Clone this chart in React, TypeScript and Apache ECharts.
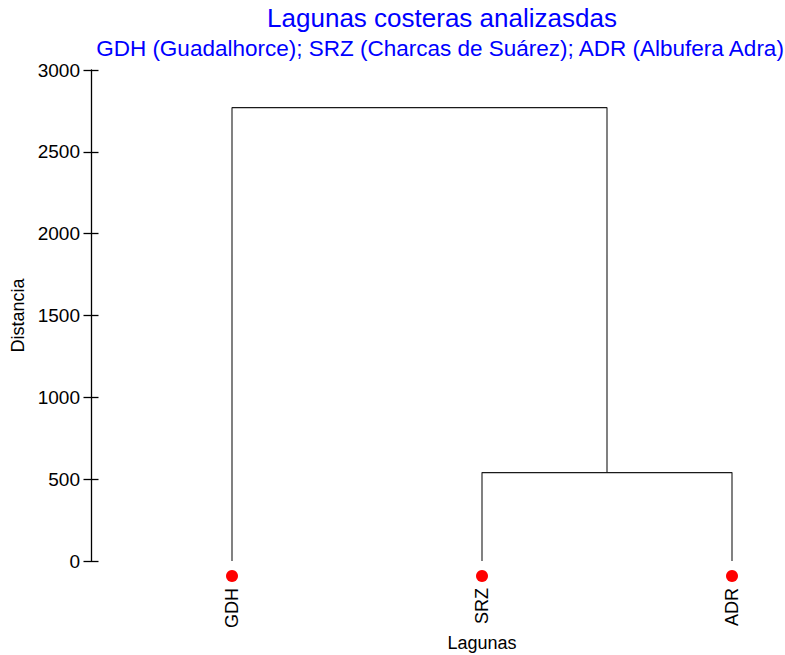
import React, { useEffect, useRef } from "react";
import * as echarts from "echarts";

const leaves = ["GDH", "SRZ", "ADR"];
const leafPositions = [1, 2, 3];
// merge 1: SRZ + ADR at height 540; merge 2: GDH + (SRZ,ADR) at 2770
const mergeHeights = [540, 2770];
const yTicks = { min: 0, max: 3000, interval: 500 };
const titleText = "Lagunas costeras analizasdas";
const subtitleText = "GDH (Guadalhorce); SRZ (Charcas de Suárez); ADR (Albufera Adra)";
const xName = "Lagunas";
const yName = "Distancia";

const FONT = "'Liberation Sans', Arial, sans-serif";

export default function App() {
  const ref = useRef<HTMLDivElement>(null);
  useEffect(() => {
    if (!ref.current) return;
    const chart = echarts.init(ref.current, null, { renderer: "svg" });
    const [p1, p2, p3] = leafPositions;
    const [h1, h2] = mergeHeights;
    const mid23 = (p2 + p3) / 2;
    const branchA = [[p2, 0], [p2, h1], [p3, h1], [p3, 0]];
    const branchB = [[p1, 0], [p1, h2], [mid23, h2], [mid23, h1]];
    const lineStyle = { color: "#1a1a1a", width: 1.1 };
    chart.setOption({
      animation: false,
      grid: { left: 91, top: 70, right: 13, bottom: 94, containLabel: false },
      xAxis: {
        type: "value",
        min: 0.436,
        max: 3.16,
        axisLine: { show: false },
        axisTick: { show: false },
        splitLine: { show: false },
        axisLabel: {
          customValues: leafPositions,
          formatter: (v: number) => leaves[Math.round(v) - 1] ?? "",
          rotate: 90,
          margin: 27,
          color: "#000",
          fontSize: 18,
          fontFamily: FONT,
        },
      },
      yAxis: [
        {
          type: "value",
          min: yTicks.min,
          max: yTicks.max,
          interval: yTicks.interval,
          position: "left",
          name: yName,
          nameLocation: "middle",
          nameGap: 54,
          nameTextStyle: { color: "#000", fontSize: 18, fontFamily: FONT },
          axisLine: { show: true, lineStyle: { color: "#000", width: 1.3 } },
          axisTick: { show: true, length: 7.5, lineStyle: { color: "#000", width: 1.3 } },
          axisLabel: {
            color: "#000",
            fontSize: 19,
            fontFamily: FONT,
            margin: 11,
            formatter: (v: number) => String(v),
          },
          splitLine: { show: false },
        },
        {
          type: "value",
          min: yTicks.min,
          max: yTicks.max,
          interval: yTicks.interval,
          position: "left",
          axisLine: { show: false },
          axisTick: { show: true, inside: true, length: 7.5, lineStyle: { color: "#000", width: 1.3 } },
          axisLabel: { show: false },
          splitLine: { show: false },
        },
      ],
      series: [
        {
          type: "line",
          data: branchA,
          showSymbol: false,
          lineStyle,
          silent: true,
        },
        {
          type: "line",
          data: branchB,
          showSymbol: false,
          lineStyle,
          silent: true,
        },
        {
          type: "scatter",
          data: leafPositions.map((p) => [p, 0]),
          symbol: "circle",
          symbolSize: 12,
          symbolOffset: [0, 15],
          clip: false,
          itemStyle: { color: "#ff0000", opacity: 1 },
          silent: true,
        },
      ],
      graphic: [
        {
          type: "text",
          x: 442,
          y: 18,
          style: {
            text: titleText,
            fill: "#0000ff",
            fontSize: 26,
            fontFamily: FONT,
            textAlign: "center",
            textVerticalAlign: "middle",
          },
        },
        {
          type: "text",
          x: 440,
          y: 48,
          style: {
            text: subtitleText,
            fill: "#0000ff",
            fontSize: 22.5,
            fontFamily: FONT,
            textAlign: "center",
            textVerticalAlign: "middle",
          },
        },
        {
          type: "text",
          x: 482,
          y: 643,
          style: {
            text: xName,
            fill: "#000",
            fontSize: 18,
            fontFamily: FONT,
            textAlign: "center",
            textVerticalAlign: "middle",
          },
        },
      ],
    });
    return () => chart.dispose();
  }, []);
  return (
    <div
      ref={ref}
      style={{ position: "absolute", left: 0, top: 0, width: 785, height: 655, background: "#fff" }}
    />
  );
}
